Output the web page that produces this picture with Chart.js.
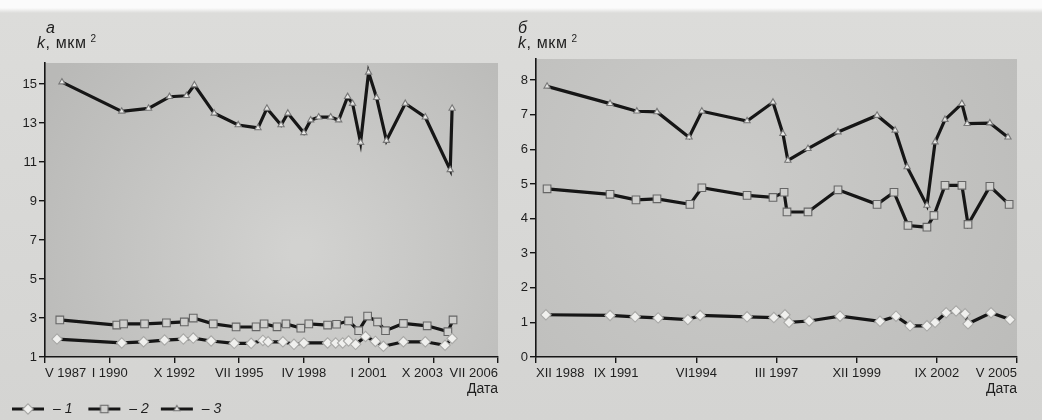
<!DOCTYPE html>
<html><head><meta charset="utf-8">
<script src="https://cdn.jsdelivr.net/npm/chart.js@4.4.1/dist/chart.umd.min.js"></script>
<style>
html,body{margin:0;padding:0;}
body{width:1042px;height:420px;position:relative;overflow:hidden;
 background:linear-gradient(to bottom,#fbfbfb 0,#fbfbfb 8px,#dcdcda 13px,#d4d4d2 100%);
 font-family:"Liberation Sans",Arial,sans-serif;color:#222;}
canvas{position:absolute;top:0;}
#c1{left:0;}
#c2{left:500px;}
.lbl{position:absolute;font-size:16px;line-height:16px;white-space:nowrap;color:#1e1e1e;}
.it{font-style:italic;}
sup{font-size:10px;vertical-align:top;position:relative;top:-4px;margin-left:4px;}
</style>
</head><body>
<canvas id="c1" width="520" height="426" style="width:520px;height:426px"></canvas>
<canvas id="c2" width="542" height="420" style="width:542px;height:420px"></canvas>
<div class="lbl it" style="left:46px;top:20px;">а</div>
<div class="lbl" style="left:37px;top:35px;letter-spacing:0.6px;"><span class="it">k</span>, мкм<sup>2</sup></div>
<div class="lbl it" style="left:518px;top:20px;">б</div>
<div class="lbl" style="left:518px;top:35px;letter-spacing:0.6px;"><span class="it">k</span>, мкм<sup>2</sup></div>
<script>
// ---- Panel а (left) ----
const leftTickVals = [1987.33, 1990.08, 1992.83, 1995.58, 1998.33, 2001.08, 2003.83, 2006.58];
const leftTickLabels = ['V 1987','I 1990','X 1992','VII 1995','IV 1998','I 2001','X 2003','VII 2006'];
const leftYTicks = [1,3,5,7,9,11,13,15];

const leftDates1 = [1987.84,1990.59,1991.52,1992.41,1993.21,1993.63,1994.39,1995.37,1996.09,1996.59,1996.81,1997.44,1997.91,1998.33,1999.34,1999.68,1999.98,2000.23,2000.53,2000.95,2001.37,2001.71,2002.56,2003.49,2004.33,2004.63];
const leftK1 = [1.92,1.72,1.78,1.87,1.92,1.97,1.82,1.70,1.70,1.85,1.78,1.78,1.65,1.72,1.72,1.72,1.72,1.82,1.65,2.05,1.80,1.55,1.78,1.78,1.60,1.95];

const leftDates2 = [1987.96,1990.38,1990.67,1991.56,1992.49,1993.25,1993.63,1994.48,1995.45,1996.30,1996.64,1997.19,1997.57,1998.20,1998.54,1999.34,1999.72,2000.23,2000.66,2001.04,2001.46,2001.80,2002.56,2003.57,2004.45,2004.67];
const leftK2 = [2.90,2.64,2.70,2.70,2.75,2.80,3.00,2.70,2.54,2.55,2.70,2.55,2.70,2.48,2.70,2.64,2.68,2.85,2.35,3.10,2.80,2.35,2.72,2.60,2.30,2.90];

const leftDates3 = [1988.05,1990.59,1991.73,1992.62,1993.34,1993.68,1994.52,1995.54,1996.38,1996.76,1997.36,1997.65,1998.33,1998.62,1998.96,1999.47,1999.81,2000.19,2000.40,2000.74,2001.08,2001.42,2001.84,2002.64,2003.49,2004.55,2004.63];
const leftK3 = [15.1,13.6,13.75,14.35,14.4,14.95,13.5,12.9,12.75,13.75,12.9,13.5,12.5,13.15,13.3,13.3,13.15,14.35,14.0,12.0,15.6,14.3,12.1,14.0,13.3,10.6,13.75];

// ---- Panel б (right) ----
const rightTickVals = [1988.92, 1991.67, 1994.42, 1997.17, 1999.92, 2002.67, 2005.42];
const rightTickLabels = ['XII 1988','IX 1991','VI1994','III 1997','XII 1999','IX 2002','V 2005'];
const rightYTicks = [0,1,2,3,4,5,6,7,8];

const rightDates1 = [1989.26,1991.46,1992.32,1993.11,1994.13,1994.55,1996.16,1997.08,1997.46,1997.60,1998.29,1999.35,2000.72,2001.27,2001.75,2002.33,2002.61,2002.99,2003.33,2003.64,2003.74,2004.53,2005.18];
const rightK1 = [1.22,1.20,1.16,1.13,1.08,1.20,1.16,1.14,1.22,1.00,1.04,1.18,1.03,1.18,0.90,0.90,1.00,1.28,1.33,1.25,0.96,1.28,1.08];

const rightDates2 = [1989.30,1991.46,1992.35,1993.07,1994.20,1994.61,1996.16,1997.05,1997.43,1997.53,1998.25,1999.28,2000.62,2001.20,2001.68,2002.33,2002.57,2002.95,2003.53,2003.74,2004.49,2005.15];
const rightK2 = [4.86,4.70,4.54,4.57,4.41,4.89,4.67,4.61,4.76,4.19,4.19,4.83,4.41,4.76,3.80,3.75,4.09,4.96,4.96,3.83,4.93,4.41];

const rightDates3 = [1989.30,1991.46,1992.38,1993.07,1994.17,1994.61,1996.16,1997.05,1997.39,1997.56,1998.25,1999.28,2000.62,2001.24,2001.65,2002.33,2002.61,2002.95,2003.53,2003.71,2004.49,2005.11];
const rightK3 = [7.82,7.32,7.10,7.08,6.35,7.10,6.82,7.36,6.45,5.68,6.02,6.50,6.98,6.55,5.49,4.38,6.21,6.86,7.32,6.74,6.76,6.35];

const legendTexts = ['– 1 ', '– 2', '– 3'];

Chart.defaults.font.family = '"Liberation Sans", Arial, sans-serif';
Chart.defaults.color = '#1e1e1e';
Chart.defaults.animation = false;

const INK = '#161616';
const markerStyles = [
  {pointStyle:'rectRot', radius:5.2, bg:'#f0f0ee', border:'#a8a8a6'},
  {pointStyle:'rect', radius:5.4, bg:'#cfcfcd', border:'#666'},
  {pointStyle:'triangle', radius:3.6, bg:'#e6e6e4', border:'#777'}
];

function pts(xs, ys){ return xs.map((x,i)=>({x:x, y:ys[i]})); }

function ds(xs, ys, m, lw){
  return {
    data: pts(xs, ys), borderColor: INK, borderWidth: lw, tension: 0,
    pointStyle: m.pointStyle, pointRadius: m.radius, pointBackgroundColor: m.bg,
    pointBorderColor: m.border, pointBorderWidth: 1.1, clip: false
  };
}

const plotBg = {
  id: 'plotBg',
  beforeDraw(chart, args, o){
    const {ctx, chartArea:{left, top, right, bottom}} = chart;
    ctx.save();
    const g = ctx.createRadialGradient(o.cx, o.cy, 10, o.cx, o.cy, o.r);
    g.addColorStop(0, o.c0); g.addColorStop(1, o.c1);
    ctx.fillStyle = g;
    ctx.fillRect(left, top, right-left, bottom-top);
    ctx.restore();
  }
};

// nudge one crowded tick label sideways (as in the original print)
const labelNudge = {
  id: 'labelNudge',
  afterLayout(chart, args, o){
    const s = chart.scales.x;
    if (!o || o.index == null || !s || typeof s.getLabelItems !== 'function') return;
    const items = s.getLabelItems();
    const it = items && items[o.index];
    if (it && it.options && Array.isArray(it.options.translation)) {
      it.options.translation[0] += o.dx;
    }
  }
};

function legendIcon(m){
  const c = document.createElement('canvas');
  c.width = 42; c.height = 14;
  const x = c.getContext('2d');
  x.strokeStyle = INK; x.lineWidth = 3;
  x.beginPath(); x.moveTo(8,7); x.lineTo(40,7); x.stroke();
  x.fillStyle = m.bg; x.strokeStyle = m.border; x.lineWidth = 1.1;
  Chart.helpers.drawPoint(x, {pointStyle:m.pointStyle, radius:m.radius, rotation:0, borderWidth:1.1}, 24, 7);
  return c;
}

function xScale(vals, labels, min, max){
  return {
    type:'linear', min:min, max:max,
    afterBuildTicks: s => { s.ticks = vals.map(v=>({value:v})); },
    afterFit: s => { s.height = 41; },
    ticks:{ autoSkip:false, maxRotation:0, align:'inner', padding:3,
      font:{size:13}, color:'#1e1e1e',
      callback:(v,i)=>labels[i] },
    grid:{ drawOnChartArea:false, drawTicks:true, tickLength:6, color:INK, lineWidth:1.4 },
    border:{ color:INK, width:1.6 },
    title:{ display:true, text:'Дата', align:'end', padding:0, font:{size:14}, color:'#1e1e1e' }
  };
}
function yScale(vals, min, max, w){
  return {
    min:min, max:max,
    afterBuildTicks: s => { s.ticks = vals.map(v=>({value:v})); },
    afterFit: s => { s.width = w; },
    ticks:{ padding:2, font:{size:13}, color:'#1e1e1e' },
    grid:{ drawOnChartArea:false, drawTicks:true, tickLength:6, color:INK, lineWidth:1.4 },
    border:{ color:INK, width:1.6 }
  };
}

new Chart(document.getElementById('c1'), {
  type:'line',
  data:{ datasets:[
    ds(leftDates1, leftK1, markerStyles[0], 3.2),
    ds(leftDates2, leftK2, markerStyles[1], 3.2),
    ds(leftDates3, leftK3, markerStyles[2], 3.2)
  ]},
  options:{
    responsive:false, devicePixelRatio:1,
    layout:{ padding:{ left:0, right:22, top:63, bottom:0 } },
    scales:{
      x: xScale(leftTickVals, leftTickLabels, 1987.33, 2006.58),
      y: yScale(leftYTicks, 1, 16.08, 45)
    },
    plugins:{
      tooltip:{enabled:false},
      labelNudge:{ index:6, dx:-11 },
      plotBg:{ cx:300, cy:250, r:300, c0:'#d2d2d0', c1:'#b9b9b7' },
      legend:{
        display:true, position:'bottom', align:'start',
        labels:{
          usePointStyle:true, pointStyleWidth:42, padding:4,
          font:{size:14, style:'italic'}, color:'#1e1e1e',
          generateLabels: () => legendTexts.map((t,i)=>({
            text:t, pointStyle:legendIcon(markerStyles[i]), fillStyle:'#fff',
            strokeStyle:'#000', lineWidth:0, hidden:false, datasetIndex:i, fontColor:'#1e1e1e'
          }))
        }
      }
    }
  },
  plugins:[plotBg, labelNudge]
});

new Chart(document.getElementById('c2'), {
  type:'line',
  data:{ datasets:[
    ds(rightDates1, rightK1, markerStyles[0], 3.2),
    ds(rightDates2, rightK2, markerStyles[1], 3.2),
    ds(rightDates3, rightK3, markerStyles[2], 3.2)
  ]},
  options:{
    responsive:false, devicePixelRatio:1,
    layout:{ padding:{ left:0, right:25, top:59, bottom:22 } },
    scales:{
      x: xScale(rightTickVals, rightTickLabels, 1988.92, 2005.42),
      y: yScale(rightYTicks, 0, 8.61, 36)
    },
    plugins:{
      tooltip:{enabled:false},
      legend:{display:false},
      plotBg:{ cx:230, cy:180, r:340, c0:'#cbcbc9', c1:'#bcbcba' }
    }
  },
  plugins:[plotBg]
});
</script>
</body></html>
